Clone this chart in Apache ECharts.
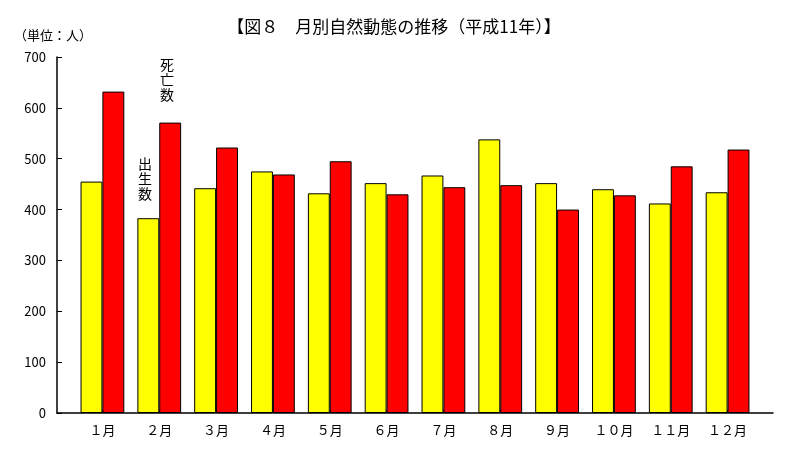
<!DOCTYPE html>
<html>
<head>
<meta charset="utf-8">
<script src="https://cdn.jsdelivr.net/npm/echarts@6/dist/echarts.min.js"></script>
<style>
html,body{margin:0;padding:0;background:#fff;}
#c{width:788px;height:449px;}
</style>
</head>
<body>
<div id="c"></div>
<script>
const months = ['１月','２月','３月','４月','５月','６月','７月','８月','９月','１０月','１１月','１２月'];
const births = [455, 383, 442, 475, 432, 452, 467, 538, 452, 440, 412, 434];
const deaths = [632, 571, 522, 469, 495, 430, 444, 448, 400, 428, 485, 518];
const titleText = '【図８　月別自然動態の推移（平成11年）】';
const unitText = '（単位：人）';
const birthLabel = '出\n生\n数';
const deathLabel = '死\n亡\n数';

const FONT = '"Noto Sans CJK JP", "Noto Sans", sans-serif';
const chart = echarts.init(document.getElementById('c'));
chart.setOption({
  backgroundColor: '#fff',
  animation: false,
  textStyle: { fontFamily: FONT, color: '#000' },
  title: {
    text: titleText, left: 'center', top: 18, padding: 0,
    textStyle: { fontFamily: FONT, fontSize: 17, fontWeight: 'normal', color: '#000' }
  },
  graphic: [
    { type: 'text', left: 14, top: 29, style: { text: unitText, font: '13px ' + FONT, fill: '#000' } },
    { type: 'text', left: 160, top: 57, style: { text: deathLabel, font: '14px ' + FONT, fill: '#000', lineHeight: 15 } },
    { type: 'text', left: 138, top: 156, style: { text: birthLabel, font: '14px ' + FONT, fill: '#000', lineHeight: 15 } }
  ],
  grid: [
    { left: 57, right: 15, top: 57, bottom: 36 },
    { left: 74, right: 32, top: 57, bottom: 36 }
  ],
  xAxis: [
    { gridIndex: 0, type: 'value', min: 0, max: 1, axisLine: { show: true, lineStyle: { color: '#000', width: 1.5 } },
      axisTick: { show: false }, axisLabel: { show: false }, splitLine: { show: false } },
    { gridIndex: 1, type: 'category', data: months,
      axisLine: { show: false },
      axisTick: { show: true, inside: true, length: 3, alignWithLabel: true, lineStyle: { color: '#000' } },
      axisLabel: { margin: 11, fontSize: 13, color: '#000', fontFamily: FONT },
      splitLine: { show: false } }
  ],
  yAxis: [
    { gridIndex: 0, type: 'value', min: 0, max: 700, interval: 100,
      axisLine: { show: true, lineStyle: { color: '#000', width: 1.5 } },
      axisTick: { show: true, inside: true, length: 5, lineStyle: { color: '#000' } },
      axisLabel: { margin: 11, fontSize: 13, color: '#000', fontFamily: FONT },
      splitLine: { show: false } },
    { gridIndex: 1, type: 'value', min: 0, max: 700, interval: 100, show: false }
  ],
  series: [
    { name: '出生数', type: 'bar', xAxisIndex: 1, yAxisIndex: 1, data: births,
      barGap: '0%', barCategoryGap: '23%',
      itemStyle: { color: '#FFFF00', borderColor: '#000', borderWidth: 1 } },
    { name: '死亡数', type: 'bar', xAxisIndex: 1, yAxisIndex: 1, data: deaths,
      itemStyle: { color: '#FF0000', borderColor: '#000', borderWidth: 1 } }
  ]
});
</script>
</body>
</html>
